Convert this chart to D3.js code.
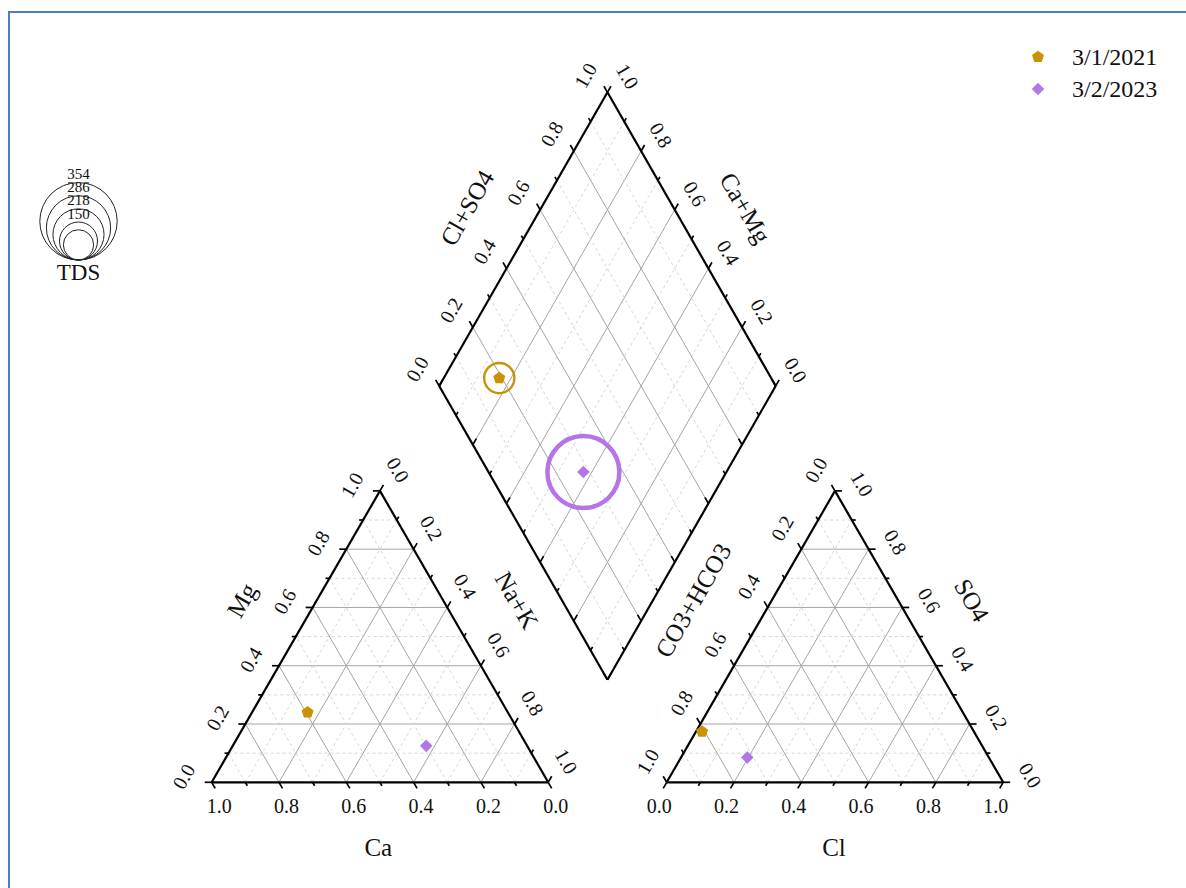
<!DOCTYPE html>
<html>
<head>
<meta charset="utf-8">
<script src="https://cdn.jsdelivr.net/npm/d3@7"></script>
<style>
  body { margin: 0; background: #fff; }
  svg { display: block; }
</style>
</head>
<body>
<script>
// ---- data (fractions of total meq) ----
const sampleDates = ["3/1/2021", "3/2/2023"];
const ca   = [0.595, 0.300];
const mg   = [0.240, 0.125];
const naK  = [0.165, 0.575];
const hco3 = [0.808, 0.718];
const so4  = [0.174, 0.085];
const cl   = [0.018, 0.197];
const tds  = [110, 326];
const tdsLegendValues = [354, 286, 218, 150, 110];
const tdsLegendLabels = ["354", "286", "218", "150"];
const tickValues = [0, 0.1, 0.2, 0.3, 0.4, 0.5, 0.6, 0.7, 0.8, 0.9, 1.0];
const tickLabels = ["0.0", "", "0.2", "", "0.4", "", "0.6", "", "0.8", "", "1.0"];
const seriesColors = ["#C99207", "#B475E6"];

const FONT = "'Liberation Serif', 'Times New Roman', Times, 'DejaVu Serif', serif";

// ---- layout ----
const W = 1186, H = 888;
const side = 336.5;
const hgt = side * Math.sqrt(3) / 2;
const catO = [211.7, 782.3];          // cation triangle, lower-left vertex
const anO  = [666.7, 782.3];          // anion triangle, lower-left vertex
const gap = anO[0] - (catO[0] + side);
const dB = [catO[0] + side + gap / 2, catO[1] - gap * Math.sqrt(3) / 2];   // diamond bottom
const dTopY = 92.3;                                                        // diamond top
const dHalf = (dB[1] - dTopY) / 2;
const dL = [dB[0] - side / 2, dB[1] - dHalf];                             // diamond left

const sx = d3.scaleLinear().domain([0, 1]).range([0, side]);
const sy = d3.scaleLinear().domain([0, 1]).range([0, hgt]);
const dsy = d3.scaleLinear().domain([0, 1]).range([0, dHalf]);
const triPt = (o, top, right) => [o[0] + sx(right + top / 2), o[1] - sy(top)];
const dPt = (a, n) => [dL[0] + sx((a + n) / 2), dL[1] - dsy(a) + dsy(n)];

const svg = d3.select("body").append("svg").attr("width", W).attr("height", H)
  .attr("font-family", FONT);
svg.append("rect").attr("x", 0).attr("y", 0).attr("width", W).attr("height", H).attr("fill", "#fff");
svg.append("path").attr("d", `M9,${H + 5} V12 H${W + 5}`)
  .attr("fill", "none").attr("stroke", "#4a7bd0").attr("stroke-width", 2);

function addText(parent, txt, x, y, rot, size, anchor) {
  return parent.append("text")
    .attr("transform", `translate(${x},${y}) rotate(${rot})`)
    .attr("text-anchor", anchor || "middle").attr("dominant-baseline", "central")
    .attr("font-family", FONT).attr("font-size", size).attr("fill", "#111")
    .text(txt);
}

const isMajor = v => Math.abs(Math.round(v * 10) % 2) === 0;
const line = d3.line();

// ---- grids ----
const grid = svg.append("g");
function gridSeg(p, q, v) {
  const major = isMajor(v);
  grid.append("path").attr("d", line([p, q]))
    .attr("fill", "none")
    .attr("stroke", major ? "#a4a4a4" : "#d6d6d6")
    .attr("stroke-width", 1)
    .attr("stroke-dasharray", major ? null : "3,3");
}
const inner = tickValues.slice(1, -1);
[catO, anO].forEach(o => {
  inner.forEach(v => {
    gridSeg(triPt(o, v, 0), triPt(o, v, 1 - v), v);
    gridSeg(triPt(o, 0, v), triPt(o, 1 - v, v), v);
    gridSeg(triPt(o, 0, 1 - v), triPt(o, 1 - v, 0), v);
  });
});
inner.forEach(v => {
  gridSeg(dPt(v, 0), dPt(v, 1), v);
  gridSeg(dPt(0, v), dPt(1, v), v);
});

// ---- axes ----
const axes = svg.append("g");
function axis(pos, dir, rot, off, showLabels) {
  const p0 = pos(0), p1 = pos(1);
  axes.append("path").attr("d", line([p0, p1])).attr("stroke", "#000").attr("stroke-width", 2.2).attr("fill", "none");
  tickValues.forEach((v, i) => {
    const p = pos(v);
    const len = isMajor(v) ? 7 : 4;
    axes.append("path").attr("d", line([p, [p[0] + dir[0] * len, p[1] + dir[1] * len]]))
      .attr("stroke", "#000").attr("stroke-width", 1.7).attr("fill", "none");
    if (showLabels && tickLabels[i]) {
      addText(axes, tickLabels[i], p[0] + off[0], p[1] + off[1], rot, 20);
    }
  });
}
const c60 = 0.5, s60 = Math.sqrt(3) / 2;
const unit = (p, q) => { const dx = q[0] - p[0], dy = q[1] - p[1], l = Math.hypot(dx, dy); return [dx / l, dy / l]; };
const e1 = unit(dPt(0, 0), dPt(1, 0));   // left -> top
const e2 = unit(dPt(0, 0), dPt(0, 1));   // left -> bottom
// cation triangle
axis(v => triPt(catO, 0, 1 - v), [c60, s60], 0, [7.5, 24], true);          // Ca
axis(v => triPt(catO, v, 0), [-1, 0], -60, [-28, -6], true);               // Mg
axis(v => triPt(catO, 1 - v, v), [c60, -s60], 60, [18, -21], true);        // Na+K
// anion triangle
axis(v => triPt(anO, 0, v), [-c60, s60], 0, [-7.5, 24], true);             // Cl
axis(v => triPt(anO, 1 - v, 0), [-c60, -s60], -60, [-19, -21], true);      // CO3+HCO3
axis(v => triPt(anO, v, 1 - v), [1, 0], 60, [27, -7], true);               // SO4
// diamond
axis(v => dPt(v, 0), [-e2[0], -e2[1]], -60, [-22, -17], true);             // Cl+SO4
axis(v => dPt(1, 1 - v), e1, 60, [20, -16], true);                         // Ca+Mg
axis(v => dPt(0, v), e1, 0, [0, 0], false);
axis(v => dPt(v, 1), [-e2[0], -e2[1]], 0, [0, 0], false);

// ---- axis titles ----
const titles = svg.append("g");
addText(titles, "Ca", catO[0] + 166.6, catO[1] + 65, 0, 25);
addText(titles, "Mg", catO[0] + 30, catO[1] - 182, -60, 25);
addText(titles, "Na+K", catO[0] + 305, catO[1] - 182, 60, 25);
addText(titles, "Cl", anO[0] + 167.3, anO[1] + 65, 0, 25);
addText(titles, "CO3+HCO3", anO[0] + 26.6, anO[1] - 182, -60, 25);
addText(titles, "SO4", anO[0] + 305, anO[1] - 182, 60, 25);
addText(titles, "Cl+SO4", dL[0] + 28, dL[1] - 178, -60, 25);
addText(titles, "Ca+Mg", dL[0] + 306, dL[1] - 178, 60, 25);

// ---- symbols ----
const pentagon = {
  draw(ctx, size) {
    const r = Math.sqrt(size / 2.378);
    for (let k = 0; k < 5; k++) {
      const a = -Math.PI / 2 + k * 2 * Math.PI / 5;
      const x = r * Math.cos(a), y = r * Math.sin(a);
      if (k === 0) ctx.moveTo(x, y); else ctx.lineTo(x, y);
    }
    ctx.closePath();
  }
};
const symbolTypes = [pentagon, d3.symbolDiamond2];
const symbolSizes = [95, 100];

// TDS bubble radius
const rScale = d3.scaleLinear().domain([0, 354]).range([4.5, 38.7]);

const marks = svg.append("g");
sampleDates.forEach((d, i) => {
  const pc = triPt(catO, mg[i], naK[i]);
  const pa = triPt(anO, so4[i], cl[i]);
  const pd = dPt(cl[i] + so4[i], naK[i]);
  marks.append("circle").attr("cx", pd[0]).attr("cy", pd[1]).attr("r", rScale(tds[i]))
    .attr("fill", "none").attr("stroke", seriesColors[i]).attr("stroke-width", i === 0 ? 2.4 : 4.5);
  [pc, pa, pd].forEach(p => {
    marks.append("path").attr("transform", `translate(${p[0]},${p[1]})`)
      .attr("d", d3.symbol(symbolTypes[i], symbolSizes[i])())
      .attr("fill", seriesColors[i]);
  });
});

// ---- series legend ----
const leg = svg.append("g");
sampleDates.forEach((d, i) => {
  const y = 57 + i * 32;
  leg.append("path").attr("transform", `translate(1038,${y})`)
    .attr("d", d3.symbol(symbolTypes[i], symbolSizes[i])()).attr("fill", seriesColors[i]);
  addText(leg, d, 1072, y, 0, 24, "start");
});

// ---- TDS legend ----
const tl = svg.append("g");
const tcx = 78.5, tby = 260;
tdsLegendValues.forEach(v => {
  const r = rScale(v);
  tl.append("circle").attr("cx", tcx).attr("cy", tby - r).attr("r", r)
    .attr("fill", "none").attr("stroke", "#222").attr("stroke-width", 1);
});
tdsLegendLabels.forEach((t, i) => {
  const r = rScale(tdsLegendValues[i]);
  addText(tl, t, tcx, tby - 2 * r - 8.5, 0, 15);
});
addText(tl, "TDS", tcx, 272, 0, 23);
</script>
</body>
</html>
